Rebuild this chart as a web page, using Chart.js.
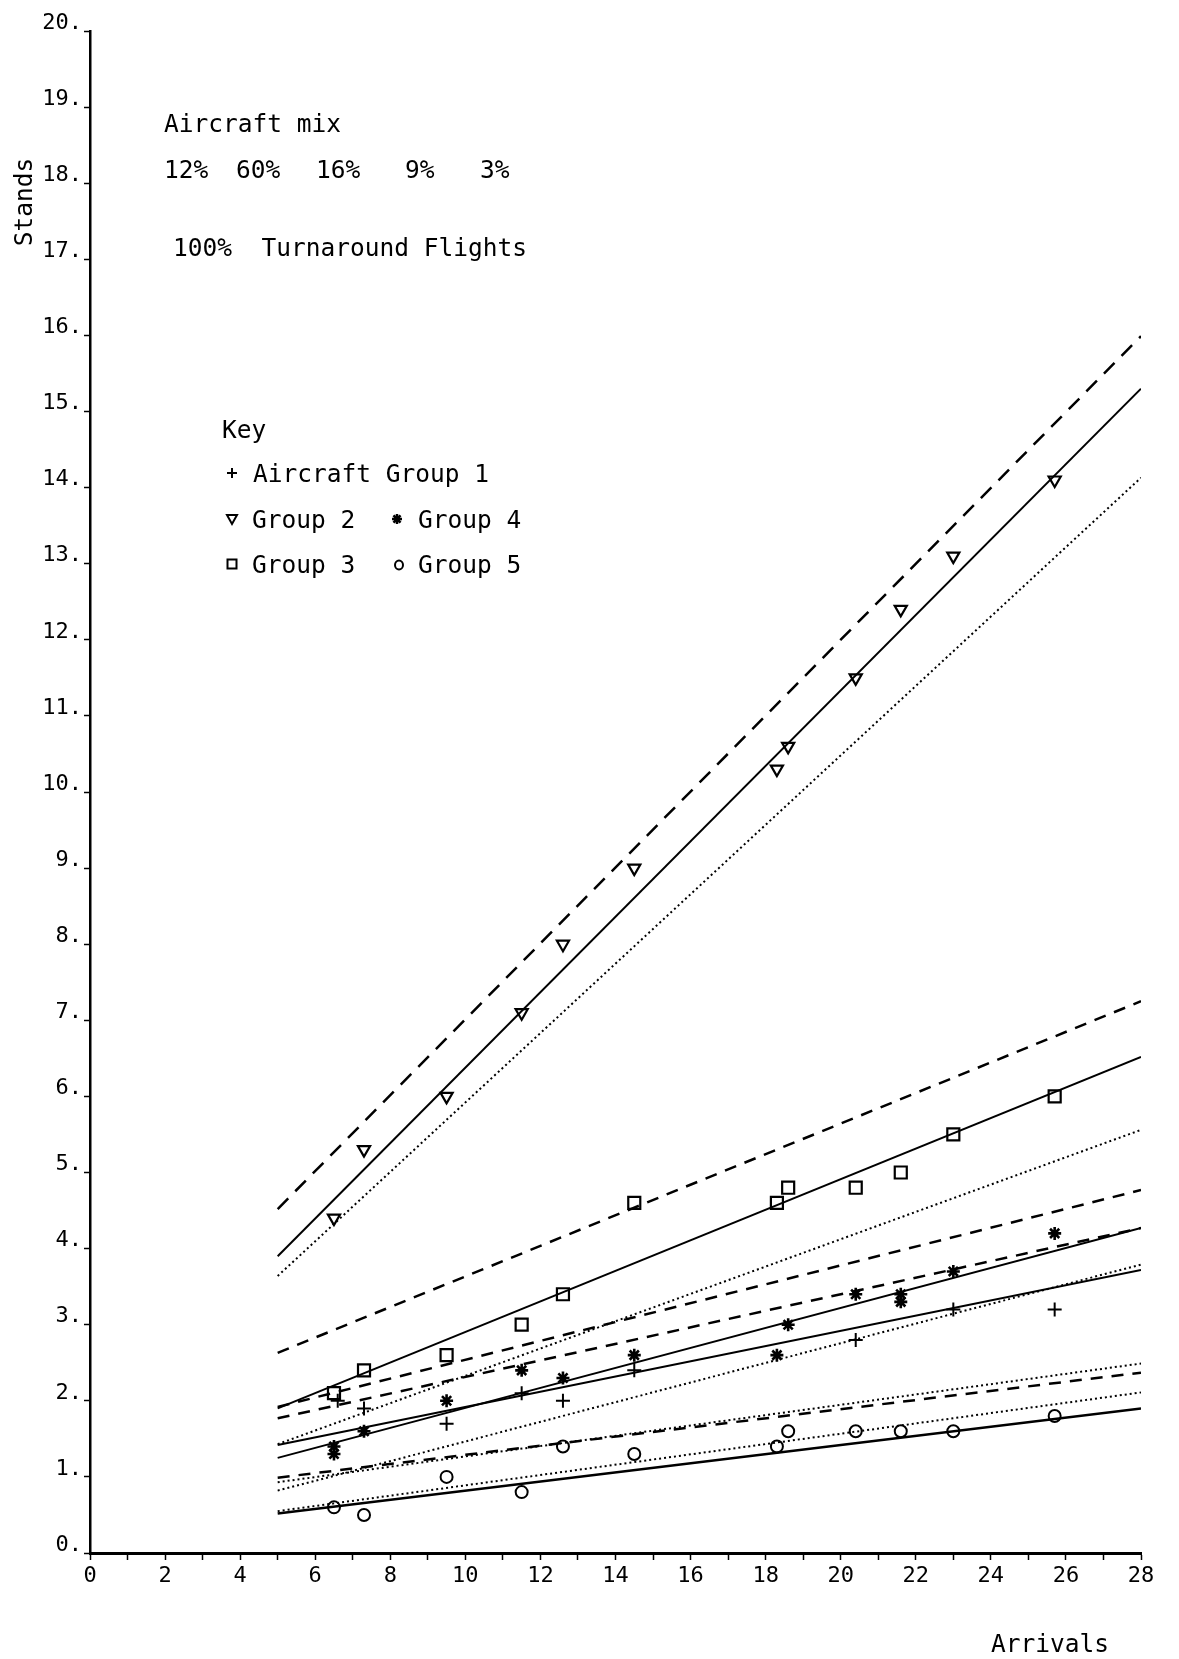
<!DOCTYPE html>
<html>
<head>
<meta charset="utf-8">
<script src="https://cdn.jsdelivr.net/npm/chart.js@4.4.1/dist/chart.umd.min.js"></script>
<style>
  html, body { margin: 0; padding: 0; background: #ffffff; }
  canvas { display: block; }
</style>
</head>
<body>
<canvas id="stands" width="1179" height="1659"></canvas>
<script>
// Mean arrivals observed in each simulation run
const arrivals = [6.5, 7.3, 9.5, 11.5, 12.6, 14.5, 18.3, 18.6, 20.4, 21.6, 23.0, 25.7];

// Stands occupied by each aircraft group
const group1Arrivals = [6.6, 7.3, 9.5, 11.5, 12.6, 14.5, 20.4, 23.0, 25.7];
const group1Stands   = [2.0, 1.9, 1.7, 2.1, 2.0, 2.4, 2.8, 3.2, 3.2];
const group2Stands   = [4.4, 5.3, 6.0, 7.1, 8.0, 9.0, 10.3, 10.6, 11.5, 12.4, 13.1, 14.1];
const group3Stands   = [2.1, 2.4, 2.6, 3.0, 3.4, 4.6, 4.6, 4.8, 4.8, 5.0, 5.5, 6.0];
const group4Arrivals = [6.5, 6.5, 7.3, 9.5, 11.5, 12.6, 14.5, 18.3, 18.6, 20.4, 21.6, 21.6, 23.0, 25.7];
const group4Stands   = [1.3, 1.4, 1.6, 2.0, 2.4, 2.3, 2.6, 2.6, 3.0, 3.4, 3.3, 3.4, 3.7, 4.2];
const group5Stands   = [0.6, 0.5, 1.0, 0.8, 1.4, 1.3, 1.4, 1.6, 1.6, 1.6, 1.6, 1.8];

// Fitted lines: stands at the first and last arrival rate
const lineArrivals = [5, 28];
const group1Solid  = [1.42, 3.72];
const group1Dashed = [1.77, 4.27];
const group1Dotted = [0.82, 3.79];
const group2Solid  = [3.90, 15.30];
const group2Dashed = [4.52, 15.99];
const group2Dotted = [3.64, 14.13];
const group3Solid  = [1.90, 6.52];
const group3Dashed = [2.63, 7.25];
const group3Dotted = [1.43, 5.56];
const group4Solid  = [1.25, 4.27];
const group4Dashed = [1.92, 4.77];
const group4Dotted = [0.93, 2.49];
const group5Solid  = [0.52, 1.90];
const group5Dashed = [0.99, 2.37];
const group5Dotted = [0.55, 2.11];

// Tick labels
const xTickLabels = ['0','2','4','6','8','10','12','14','16','18','20','22','24','26','28'];
const yTickLabels = ['0.','1.','2.','3.','4.','5.','6.','7.','8.','9.','10.','11.','12.','13.','14.','15.','16.','17.','18.','19.','20.'];

// Annotation text
const xTitle = 'Arrivals';
const yTitle = 'Stands';
const mixTitle = 'Aircraft mix';
const mixShares = ['12%', '60%', '16%', '9%', '3%'];
const flightNote = '100%  Turnaround Flights';
const keyTitle = 'Key';
const keyEntries = ['Aircraft Group 1', 'Group 2', 'Group 3', 'Group 4', 'Group 5'];

const FONT = '"DejaVu Sans Mono", "Liberation Mono", monospace';
const INK = '#000000';

const pts = (xs, ys) => xs.map((x, i) => ({ x: x, y: ys[i] }));

function markers(label, xs, ys, style, radius, rotation, width) {
  return {
    label: label,
    data: pts(xs, ys),
    showLine: false,
    pointStyle: style,
    pointRadius: radius,
    pointHoverRadius: radius,
    pointRotation: rotation || 0,
    pointBorderColor: INK,
    pointBackgroundColor: 'rgba(0,0,0,0)',
    pointBorderWidth: width || 2,
    borderColor: INK
  };
}

function fit(label, ends, dash, width) {
  return {
    label: label,
    data: pts(lineArrivals, ends),
    showLine: true,
    borderColor: INK,
    borderWidth: width,
    borderDash: dash,
    borderCapStyle: 'butt',
    pointRadius: 0,
    pointHoverRadius: 0,
    fill: false,
    tension: 0
  };
}

const SOLID = [];
const DASH_LONG = [15, 10];
const DASH = [12, 9];
const DOT = [2, 3];

// Small key symbols drawn beside the key text
function keySymbol(ctx, kind, x, y) {
  ctx.save();
  ctx.strokeStyle = INK;
  ctx.lineWidth = 2;
  ctx.beginPath();
  if (kind === 'plus') {
    ctx.moveTo(x - 5, y); ctx.lineTo(x + 5, y);
    ctx.moveTo(x, y - 5); ctx.lineTo(x, y + 5);
  } else if (kind === 'tri') {
    ctx.moveTo(x - 5, y - 4); ctx.lineTo(x + 5, y - 4); ctx.lineTo(x, y + 5); ctx.closePath();
  } else if (kind === 'square') {
    ctx.rect(x - 4.5, y - 4.5, 9, 9);
  } else if (kind === 'circle') {
    ctx.ellipse(x, y, 4, 4.5, 0, 0, Math.PI * 2);
  } else if (kind === 'star') {
    ctx.lineWidth = 2.5;
    for (let k = 0; k < 4; k++) {
      const a = k * Math.PI / 4;
      ctx.moveTo(x - 5 * Math.cos(a), y - 5 * Math.sin(a));
      ctx.lineTo(x + 5 * Math.cos(a), y + 5 * Math.sin(a));
    }
  }
  ctx.stroke();
  ctx.restore();
}

const annotations = {
  id: 'annotations',
  afterDraw(chart) {
    const ctx = chart.ctx;
    ctx.save();
    ctx.fillStyle = INK;
    ctx.font = '24.5px ' + FONT;
    ctx.textBaseline = 'alphabetic';
    ctx.textAlign = 'left';

    ctx.fillText(mixTitle, 164, 132);
    const shareX = [164, 236, 316, 405, 480];
    mixShares.forEach((s, i) => ctx.fillText(s, shareX[i], 178));
    ctx.fillText(flightNote, 173, 256);

    ctx.fillText(keyTitle, 222, 438);
    ctx.fillText(keyEntries[0], 253, 482);
    ctx.fillText(keyEntries[1], 252, 528);
    ctx.fillText(keyEntries[3], 418, 528);
    ctx.fillText(keyEntries[2], 252, 573);
    ctx.fillText(keyEntries[4], 418, 573);

    keySymbol(ctx, 'plus', 232, 473);
    keySymbol(ctx, 'tri', 232, 519);
    keySymbol(ctx, 'star', 397, 519);
    keySymbol(ctx, 'square', 232, 564);
    keySymbol(ctx, 'circle', 399, 565);

    // axis titles
    ctx.textAlign = 'center';
    ctx.fillText(xTitle, 1050, 1652);
    ctx.save();
    ctx.translate(32, 202);
    ctx.rotate(-Math.PI / 2);
    ctx.fillText(yTitle, 0, 0);
    ctx.restore();
    ctx.restore();
  }
};

new Chart(document.getElementById('stands'), {
  type: 'scatter',
  data: {
    datasets: [
      fit('Group 2 fitted', group2Solid, SOLID, 2),
      fit('Group 2 upper', group2Dashed, DASH_LONG, 2.5),
      fit('Group 2 lower', group2Dotted, DOT, 2),
      fit('Group 3 fitted', group3Solid, SOLID, 2),
      fit('Group 3 upper', group3Dashed, DASH, 2.5),
      fit('Group 3 lower', group3Dotted, DOT, 2),
      fit('Group 1 fitted', group1Solid, SOLID, 2),
      fit('Group 1 upper', group1Dashed, DASH, 2.5),
      fit('Group 1 lower', group1Dotted, DOT, 2),
      fit('Group 4 fitted', group4Solid, SOLID, 2),
      fit('Group 4 upper', group4Dashed, DASH, 2.5),
      fit('Group 4 lower', group4Dotted, DOT, 2),
      fit('Group 5 fitted', group5Solid, SOLID, 2.5),
      fit('Group 5 upper', group5Dashed, DASH, 2.5),
      fit('Group 5 lower', group5Dotted, DOT, 2),
      markers('Aircraft Group 1', group1Arrivals, group1Stands, 'cross', 7, 0, 2),
      markers('Group 2', arrivals, group2Stands, 'triangle', 7, 180, 2.2),
      markers('Group 3', arrivals, group3Stands, 'rect', 8.5, 0, 2.2),
      markers('Group 4', group4Arrivals, group4Stands, 'star', 6.5, 0, 2.6),
      markers('Group 5', arrivals, group5Stands, 'circle', 6, 0, 2)
    ]
  },
  options: {
    responsive: false,
    animation: false,
    devicePixelRatio: 1,
    layout: { padding: { top: 31, right: 38, left: 0, bottom: 0 } },
    plugins: {
      legend: { display: false },
      tooltip: { enabled: false },
      title: { display: false }
    },
    scales: {
      x: {
        type: 'linear',
        min: 0,
        max: 28,
        afterBuildTicks(scale) {
          scale.ticks = Array.from({ length: 29 }, (_, i) => ({ value: i }));
        },
        ticks: {
          autoSkip: false,
          maxRotation: 0,
          color: INK,
          padding: 3,
          font: { family: FONT, size: 22 },
          callback: (v) => (v % 2 === 0 ? xTickLabels[v / 2] : '')
        },
        grid: {
          display: true,
          drawOnChartArea: false,
          drawTicks: true,
          tickLength: 7,
          tickColor: INK,
          tickWidth: 1.5
        },
        border: { display: true, color: INK, width: 3 },
        afterFit(scale) { scale.height = 106; }
      },
      y: {
        type: 'linear',
        min: 0,
        max: 20,
        afterBuildTicks(scale) {
          scale.ticks = Array.from({ length: 21 }, (_, i) => ({ value: i }));
        },
        ticks: {
          autoSkip: false,
          color: INK,
          padding: 2,
          labelOffset: -8,
          font: { family: FONT, size: 22 },
          callback: (v) => yTickLabels[v]
        },
        grid: {
          display: true,
          drawOnChartArea: false,
          drawTicks: true,
          tickLength: 6,
          tickColor: INK,
          tickWidth: 1.5
        },
        border: { display: true, color: INK, width: 2.5 },
        afterFit(scale) { scale.width = 90; }
      }
    }
  },
  plugins: [annotations]
});
</script>
</body>
</html>
